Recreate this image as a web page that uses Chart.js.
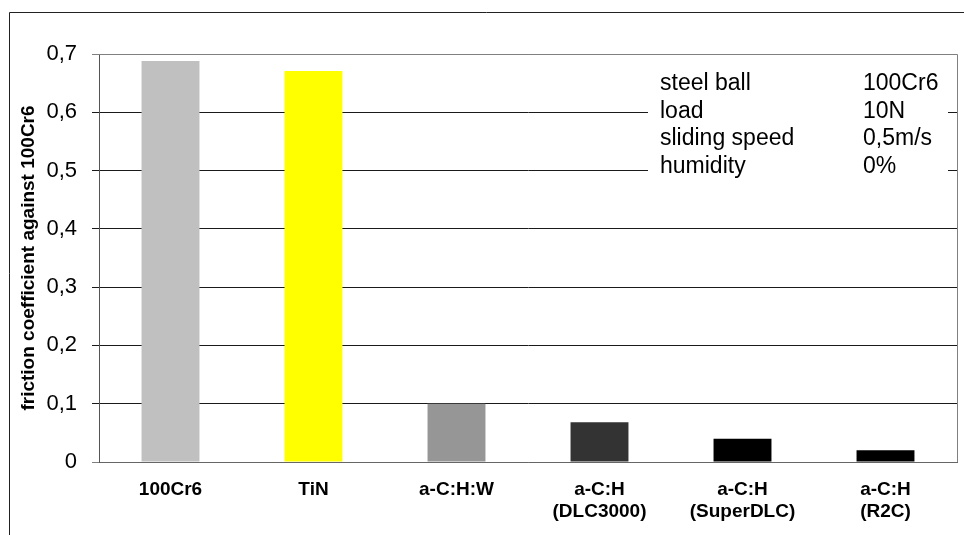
<!DOCTYPE html>
<html>
<head>
<meta charset="utf-8">
<script src="https://cdn.jsdelivr.net/npm/chart.js@4/dist/chart.umd.min.js"></script>
<style>
  html, body { margin: 0; padding: 0; background: #fff; }
  canvas { display: block; }
</style>
</head>
<body>
<canvas id="chart" width="964" height="535"></canvas>
<script>
const categories = ['100Cr6', 'TiN', 'a-C:H:W', ['a-C:H', '(DLC3000)'], ['a-C:H', '(SuperDLC)'], ['a-C:H', '(R2C)']]
const friction = [0.688, 0.671, 0.1, 0.068, 0.04, 0.02]
const barColors = ['#c0c0c0', '#ffff00', '#969696', '#333333', '#000000', '#000000']
const yTicks = [0, 0.1, 0.2, 0.3, 0.4, 0.5, 0.6, 0.7]
const infoLabels = ['steel ball', 'load', 'sliding speed', 'humidity']
const infoValues = ['100Cr6', '10N', '0,5m/s', '0%']

const FONT = "'Liberation Sans', Arial, sans-serif"

// white page, outer frame, plot border and the test-conditions box
const frame = {
  id: 'frame',
  beforeDraw(chart) {
    const ctx = chart.ctx
    ctx.save()
    ctx.fillStyle = '#fff'
    ctx.fillRect(0, 0, chart.width, chart.height)
    ctx.restore()
  },
  afterDraw(chart) {
    const ctx = chart.ctx
    const a = chart.chartArea
    ctx.save()
    ctx.lineWidth = 1
    ctx.strokeStyle = '#222'
    ctx.beginPath()
    ctx.moveTo(9.5, chart.height)
    ctx.lineTo(9.5, 12.5)
    ctx.lineTo(chart.width, 12.5)
    ctx.stroke()

    ctx.strokeStyle = '#808080'
    ctx.beginPath()
    ctx.moveTo(a.left, a.top + 0.5)
    ctx.lineTo(a.right + 0.5, a.top + 0.5)
    ctx.lineTo(a.right + 0.5, a.bottom)
    ctx.stroke()

    ctx.fillStyle = '#fff'
    ctx.fillRect(648, 64, 300, 118)
    ctx.fillStyle = '#000'
    ctx.font = '23px ' + FONT
    ctx.textBaseline = 'middle'
    ctx.textAlign = 'left'
    infoLabels.forEach((t, i) => {
      const y = 84 + i * 27.5
      ctx.fillText(t, 660, y)
      ctx.fillText(infoValues[i], 863, y)
    })
    ctx.restore()
  }
}

new Chart(document.getElementById('chart'), {
  type: 'bar',
  data: {
    labels: categories,
    datasets: [{
      data: friction,
      backgroundColor: barColors,
      borderWidth: 0,
      categoryPercentage: 1,
      barPercentage: 0.405
    }]
  },
  options: {
    responsive: false,
    animation: false,
    devicePixelRatio: 1,
    layout: { padding: { top: 54, right: 7, left: 0, bottom: 0 } },
    plugins: { legend: { display: false }, tooltip: { enabled: false } },
    scales: {
      x: {
        grid: { display: false, drawTicks: false },
        border: { display: true, color: '#666' },
        ticks: {
          color: '#000',
          padding: 16,
          maxRotation: 0,
          autoSkip: false,
          font: { family: FONT, size: 19, weight: 'bold', lineHeight: 1.2 }
        },
        afterFit(scale) { scale.height = 73 }
      },
      y: {
        min: 0,
        max: 0.7,
        afterBuildTicks(scale) { scale.ticks = yTicks.map(v => ({ value: v })) },
        grid: {
          color: c => (c.tick && (c.tick.value > 0.65 || c.tick.value === 0)) ? '#808080' : '#1a1a1a',
          tickLength: 7,
          lineWidth: 1
        },
        border: { display: true, color: '#555' },
        ticks: {
          color: '#000',
          padding: 15,
          font: { family: FONT, size: 22 },
          callback: v => v === 0 ? '0' : v.toFixed(1).replace('.', ',')
        },
        title: {
          display: true,
          text: 'friction coefficient against 100Cr6',
          color: '#000',
          font: { family: FONT, size: 19, weight: 'bold' },
          padding: { top: 17, bottom: 0 }
        },
        afterFit(scale) { scale.width = 99 }
      }
    }
  },
  plugins: [frame]
})
</script>
</body>
</html>
